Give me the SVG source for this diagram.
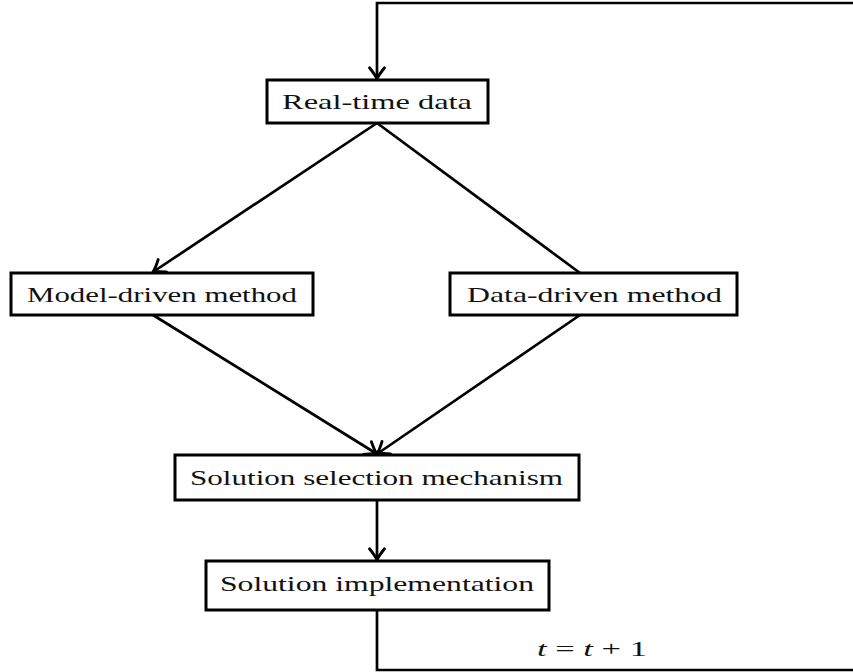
<svg xmlns="http://www.w3.org/2000/svg" width="853" height="672" viewBox="0 0 853 672">
<style>
.box{fill:#fff;stroke:#000;stroke-width:3}
.lbl{font-family:"Liberation Serif","DejaVu Serif",serif;font-size:22px;fill:#111}
.conn{fill:none;stroke:#000;stroke-width:2.7}
</style>
<defs>
<marker id="arr" markerUnits="userSpaceOnUse" markerWidth="20" markerHeight="20" viewBox="-12 -8 14 16" refX="0" refY="0" orient="auto">
<path d="M-9,-6 Q-3,-1.2 0,0 Q-3,1.2 -9,6" fill="none" stroke="#000" stroke-width="2.3" stroke-linecap="round" stroke-linejoin="round"/>
</marker>
</defs>
<rect width="853" height="672" fill="#fff"/>
<g id="connectors">
<path class="conn" d="M377,610 V670 H880 V3 H377 V79" marker-end="url(#arr)"/>
<path class="conn" d="M377,123 L153,272" marker-end="url(#arr)"/>
<path class="conn" d="M377,123 L580,273"/>
<path class="conn" d="M153,315 L377,454" marker-end="url(#arr)"/>
<path class="conn" d="M580,315 L377,454" marker-end="url(#arr)"/>
<path class="conn" d="M377,500 V560" marker-end="url(#arr)"/>
<text class="lbl" x="537" y="656" textLength="110" lengthAdjust="spacingAndGlyphs"><tspan font-style="italic">t</tspan> = <tspan font-style="italic">t</tspan> + 1</text>
</g>
<g id="realtime">
<rect class="box" x="267" y="80" width="221" height="43"/>
<text class="lbl" x="282" y="109" textLength="190" lengthAdjust="spacingAndGlyphs">Real-time data</text>
</g>
<g id="model">
<rect class="box" x="11" y="273" width="302" height="42"/>
<text class="lbl" x="27" y="302" textLength="270" lengthAdjust="spacingAndGlyphs">Model-driven method</text>
</g>
<g id="data">
<rect class="box" x="450" y="273" width="287" height="42"/>
<text class="lbl" x="467" y="302" textLength="255" lengthAdjust="spacingAndGlyphs">Data-driven method</text>
</g>
<g id="selection">
<rect class="box" x="175" y="455" width="404" height="45"/>
<text class="lbl" x="190" y="485" textLength="373" lengthAdjust="spacingAndGlyphs">Solution selection mechanism</text>
</g>
<g id="implementation">
<rect class="box" x="206" y="561" width="343" height="49"/>
<text class="lbl" x="220" y="591" textLength="314" lengthAdjust="spacingAndGlyphs">Solution implementation</text>
</g>
</svg>
